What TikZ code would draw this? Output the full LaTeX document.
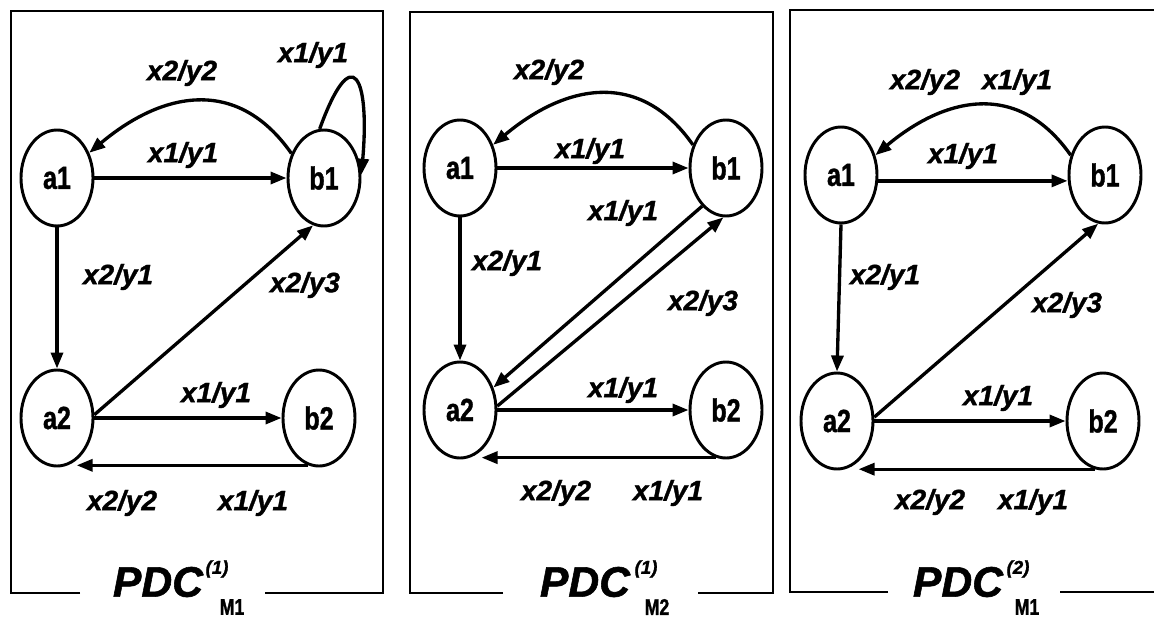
\documentclass[tikz,border=0pt]{standalone}
\usepackage{fontspec}
\setmainfont{Liberation Sans}
\newfontfamily\narrowfont{Liberation Sans}[FakeStretch=0.78,FakeBold=1.2]
\newfontfamily\heavyfont{Liberation Sans}[FakeBold=1.3]
\usetikzlibrary{arrows.meta,shapes.geometric}

\tikzset{
  fsmstate/.style={ellipse, draw, line width=2.2pt, minimum width=54pt,
    minimum height=72pt, inner sep=0pt,
    font=\narrowfont\bfseries\fontsize{24}{24}\selectfont},
  tr/.style={line width=2.5pt, -{Triangle[length=12pt,width=9pt]}},
  lbl/.style={inner sep=0pt, font=\heavyfont\bfseries\itshape\fontsize{21}{21}\selectfont},
  panel/.style={line width=1.6pt},
  ttl/.style={inner sep=0pt, font=\heavyfont\bfseries\itshape\fontsize{32}{32}\selectfont},
  ttlsup/.style={inner sep=0pt, font=\heavyfont\bfseries\itshape\fontsize{14}{14}\selectfont},
  ttlsub/.style={inner sep=0pt, font=\narrowfont\bfseries\fontsize{17}{17}\selectfont},
}

\begin{document}
\begin{tikzpicture}[x=0.75pt, y=-0.75pt]
  \useasboundingbox[fill=white] (0,0) rectangle (1154,621);

  % ---------- first automaton ----------
  \draw[panel] (80,593) -- (11,593) -- (11,11) -- (383,11) -- (383,593) -- (265,593);
  \node[fsmstate] (pa1) at (57,178) {a1};
  \node[fsmstate] (pb1) at (324,178) {b1};
  \node[fsmstate] (pa2) at (57,418) {a2};
  \node[fsmstate] (pb2) at (319,418) {b2};

  \draw[tr] (pa1) -- (pb1);
  \draw[tr] (pb1.143) to[out=125, in=40, looseness=1.2] (pa1.38);
  \draw[tr] (pb1.95) to[out=70, in=85, looseness=4] (pb1.5);
  \draw[tr] (pa1.south) -- (pa2.north);
  \draw[tr] (pa2.5) -- (pb1.-103);
  \draw[tr] (pa2) -- (pb2);
  \draw[tr] (pb2.-103) -- (pb2.-103 -| pa2.-65);

  \node[lbl] (pl1) at (182,73) {x2/y2};
  \node[lbl] (pl2) at (313,55) {x1/y1};
  \node[lbl] (pl3) at (183,155) {x1/y1};
  \node[lbl] (pl4) at (118,277) {x2/y1};
  \node[lbl] (pl5) at (305,285) {x2/y3};
  \node[lbl] (pl6) at (216,395) {x1/y1};
  \node[lbl] (pl7) at (122,503) {x2/y2};
  \node[lbl] (pl8) at (253,503) {x1/y1};

  \node[ttl] (pt) at (158,582) {PDC};
  \node[ttlsup] (pts) at (217,569) {(1)};
  \node[ttlsub] (ptb) at (232,607) {M1};

  % ---------- second automaton ----------
  \draw[panel] (503,593) -- (410,593) -- (410,12) -- (773,12) -- (773,593) -- (698,593);
  \node[fsmstate] (qa1) at (460,168) {a1};
  \node[fsmstate] (qb1) at (726,168) {b1};
  \node[fsmstate] (qa2) at (460,410) {a2};
  \node[fsmstate] (qb2) at (726,410) {b2};

  \draw[tr] (qa1) -- (qb1);
  \draw[tr] (qb1.145) to[out=125, in=40, looseness=1.2] (qa1.35);
  \draw[tr] (qa1.south) -- (qa2.north);
  \draw[tr] (qb1.-122) -- (qa2.34);
  \draw[tr] (qa2.6) -- (qb1.-93);
  \draw[tr] (qa2) -- (qb2);
  \draw[tr] (qb2.-102) -- (qb2.-102 -| qa2.-62);

  \node[lbl] (ql1) at (549,72) {x2/y2};
  \node[lbl] (ql2) at (590,151) {x1/y1};
  \node[lbl] (ql3) at (507,263) {x2/y1};
  \node[lbl] (ql4) at (623,213) {x1/y1};
  \node[lbl] (ql5) at (703,303) {x2/y3};
  \node[lbl] (ql6) at (623,390) {x1/y1};
  \node[lbl] (ql7) at (556,493) {x2/y2};
  \node[lbl] (ql8) at (668,493) {x1/y1};

  \node[ttl] (qt) at (585,582) {PDC};
  \node[ttlsup] (qts) at (646,569) {(1)};
  \node[ttlsub] (qtb) at (657,607) {M2};

  % ---------- third automaton ----------
  \draw[panel] (888,592) -- (790,592) -- (790,10) -- (1154,10);
  \draw[panel] (1060,592) -- (1154,592);
  \node[fsmstate] (ra1) at (841,175) {a1};
  \node[fsmstate] (rb1) at (1105,175) {b1};
  \node[fsmstate] (ra2) at (837,421) {a2};
  \node[fsmstate] (rb2) at (1103,421) {b2};

  \draw[tr] (ra1.-9) -- (ra1.-9 -| rb1.west);
  \draw[tr] (rb1.150) to[out=125, in=40, looseness=1.2] (ra1.30);
  \draw[tr] (ra1.south) -- (ra2.north);
  \draw[tr] (ra2.6) -- (rb1.-98);
  \draw[tr] (ra2) -- (rb2);
  \draw[tr] (rb2.-100) -- (rb2.-100 -| ra2.-62);

  \node[lbl] (rl1) at (925,82) {x2/y2};
  \node[lbl] (rl2) at (1017,82) {x1/y1};
  \node[lbl] (rl3) at (963,156) {x1/y1};
  \node[lbl] (rl4) at (885,277) {x2/y1};
  \node[lbl] (rl5) at (1067,305) {x2/y3};
  \node[lbl] (rl6) at (998,398) {x1/y1};
  \node[lbl] (rl7) at (930,502) {x2/y2};
  \node[lbl] (rl8) at (1033,502) {x1/y1};

  \node[ttl] (rt) at (958,582) {PDC};
  \node[ttlsup] (rts) at (1018,569) {(2)};
  \node[ttlsub] (rtb) at (1027,607) {M1};
\end{tikzpicture}
\end{document}
